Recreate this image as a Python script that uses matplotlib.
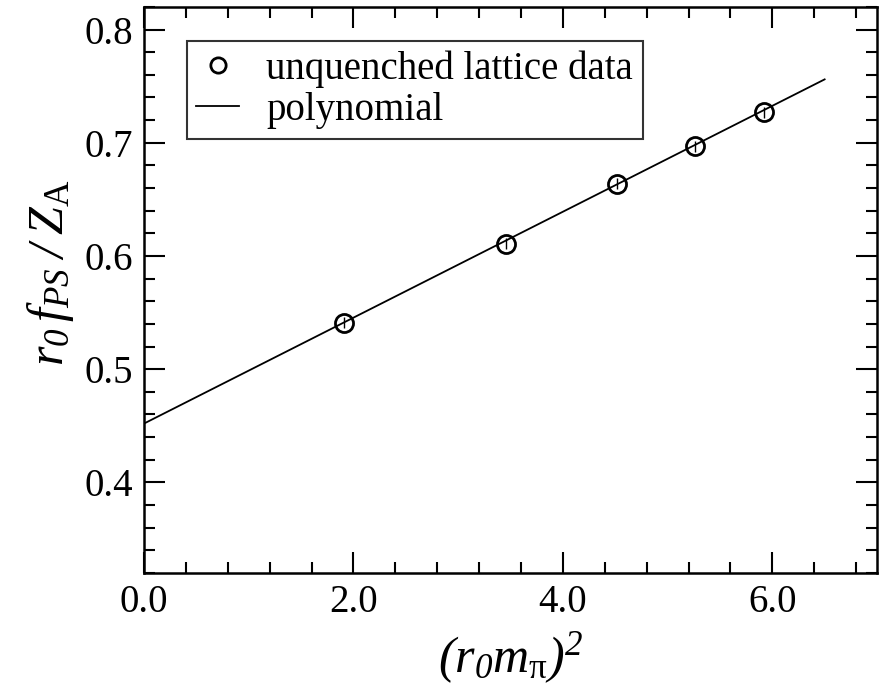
import matplotlib
matplotlib.use("Agg")
import matplotlib.pyplot as plt
from matplotlib.lines import Line2D
from matplotlib.ticker import MultipleLocator, FormatStrFormatter

# lattice data points
r0mpi_sq = [1.91, 3.46, 4.52, 5.26, 5.92]
r0fps = [0.541, 0.611, 0.664, 0.697, 0.727]
r0fps_err = [0.005, 0.005, 0.005, 0.005, 0.005]

# polynomial fit curve end points
fit_x = [0.0, 6.5]
fit_y = [0.452, 0.756]

plt.rcParams["font.family"] = "Liberation Serif"
plt.rcParams["mathtext.fontset"] = "custom"
plt.rcParams["mathtext.rm"] = "Liberation Serif:italic"
plt.rcParams["mathtext.it"] = "Liberation Serif:italic"
plt.rcParams["mathtext.sf"] = "Liberation Serif"
plt.rcParams["mathtext.bf"] = "Liberation Serif:bold"

fig = plt.figure(figsize=(8.87, 6.92), dpi=100)
ax = fig.add_axes([0.1624, 0.172, 0.8263, 0.818])

ax.plot(fit_x, fit_y, color="black", lw=1.3)
ax.errorbar(r0mpi_sq, r0fps, yerr=r0fps_err, fmt="o", ms=13, mfc="none",
            mec="black", mew=2, ecolor="black", elinewidth=1, capsize=0)

ax.set_xlim(0, 7)
ax.set_ylim(0.32, 0.82)
ax.xaxis.set_major_locator(MultipleLocator(2))
ax.xaxis.set_minor_locator(MultipleLocator(0.4))
ax.yaxis.set_major_locator(MultipleLocator(0.1))
ax.yaxis.set_minor_locator(MultipleLocator(0.02))
ax.xaxis.set_major_formatter(FormatStrFormatter("%.1f"))
ax.yaxis.set_major_formatter(FormatStrFormatter("%.1f"))

ax.tick_params(which="both", direction="in", top=True, right=True, width=1.5)
ax.tick_params(which="major", length=15, labelsize=28, pad=8)
ax.tick_params(which="minor", length=8)
for s in ax.spines.values():
    s.set_linewidth(1.8)

ax.set_xlabel(r"$(r_{0}m_{\mathsf{\pi}})^{2}$", fontsize=36, labelpad=7)
ax.set_ylabel(r"$r_{0}\,f_{\mathit{PS}}\;/\;Z_{\mathsf{A}}$", fontsize=36)
ax.yaxis.set_label_coords(-0.093, 0.53)

handles = [
    Line2D([], [], ls="none", marker="o", ms=11, mfc="none", mec="black", mew=2),
    Line2D([], [], color="black", lw=1.3),
]
labels = ["unquenched lattice data", "polynomial"]
leg = ax.legend(handles, labels, loc="upper left",
                bbox_to_anchor=(0.058, 0.94), fontsize=28, frameon=True,
                fancybox=False, edgecolor="black", handlelength=1.1,
                handletextpad=0.7, borderpad=0.25, labelspacing=0.1,
                borderaxespad=0)
leg.get_frame().set_linewidth(1.5)

fig.savefig("out.png", dpi=100)
